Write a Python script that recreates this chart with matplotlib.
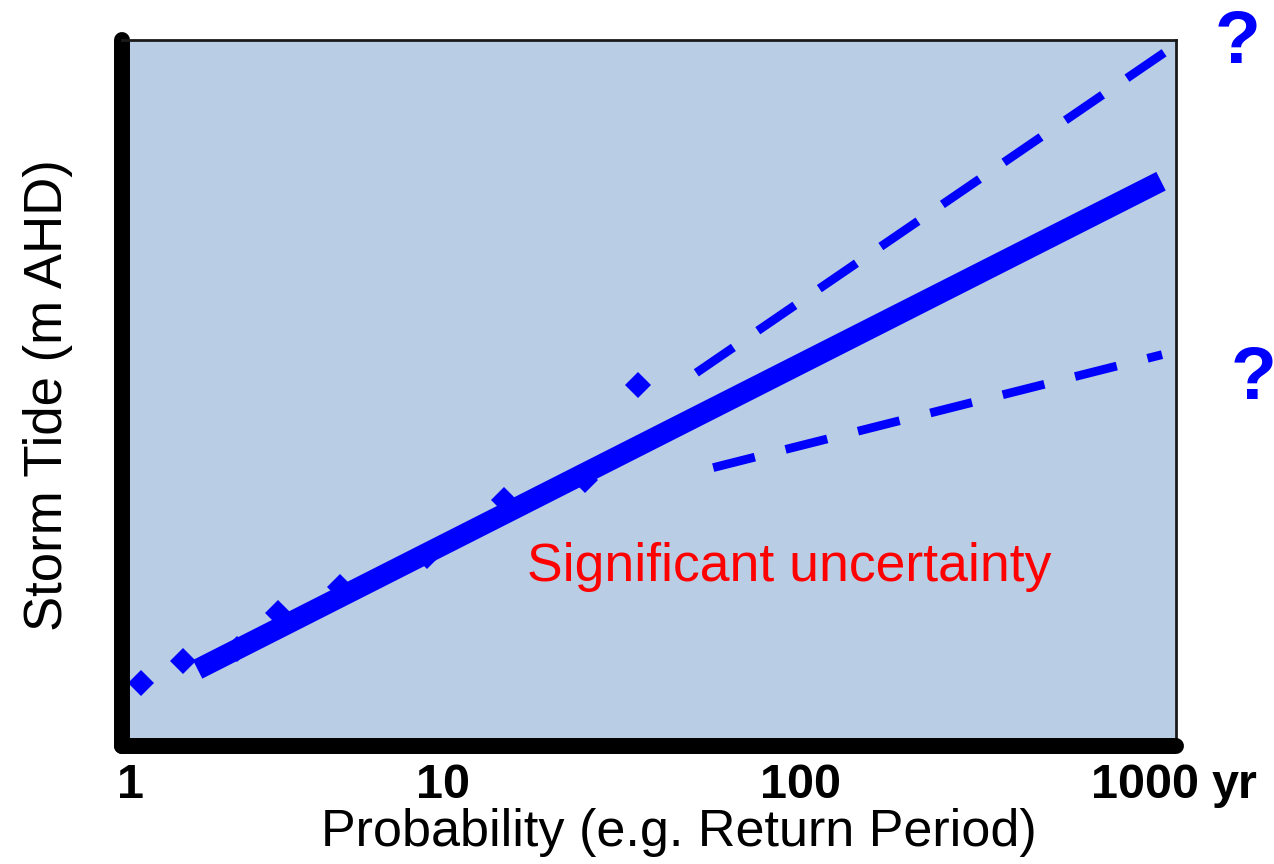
import matplotlib
matplotlib.use('Agg')
import matplotlib.pyplot as plt

plt.rcParams['font.family'] = 'Liberation Sans'

# observed storm tide maxima against return period (years)
return_period = [1.14, 1.51, 2.18, 2.88, 4.39, 7.9, 13.4, 23.2, 33.2]
storm_tide = [1.31, 1.42, 1.48, 1.66, 1.79, 1.94, 2.22, 2.32, 2.79]

# fitted curve and the upper / lower bounds of the extrapolation
fit_period = [1.67, 1156]
fit_tide = [1.38, 3.80]
upper_period = [49.3, 1188]
upper_tide = [2.85, 4.44]
lower_period = [55.3, 1164]
lower_tide = [2.38, 2.94]

tick_values = [1, 10, 100, 1000]
tick_labels = ['1', '10', '100', '1000']

blue = '#0000FF'

fig = plt.figure(figsize=(12.74, 8.64), dpi=100)
ax = fig.add_axes([0.0958, 0.1366, 0.8273, 0.8171])
ax.set_facecolor('#B9CDE5')
ax.set_xscale('log')
ax.set_xlim(1, 1280)
ax.set_ylim(1.0, 4.5)

ax.plot(return_period, storm_tide, 'D', color=blue, ms=13.5, mew=0, zorder=2)
ax.plot(fit_period, fit_tide, color=blue, lw=15, solid_capstyle='butt', zorder=3)
ax.plot(upper_period, upper_tide, color=blue, lw=6.3, ls=(0, (5.14, 3.38)),
        dash_capstyle='butt', zorder=3)
ax.plot(lower_period, lower_tide, color=blue, lw=6.3, ls=(0, (4.91, 3.62)),
        dash_capstyle='butt', zorder=3)

# heavy axes on the left and bottom, thin frame elsewhere
for side in ['left', 'bottom']:
    ax.spines[side].set_linewidth(11.5)
    ax.spines[side].set_color('black')
    ax.spines[side].set_capstyle('round')
for side in ['top', 'right']:
    ax.spines[side].set_linewidth(2)
    ax.spines[side].set_color('#1a1a1a')

# decade labels drawn by hand so each can be nudged a little
ax.set_xticks([])
ax.set_xticks([], minor=True)
ax.set_yticks([])
nudge = [6, -13, 0, 4]
for val, lab, dx in zip(tick_values, tick_labels, nudge):
    ax.annotate(lab, xy=(val, 0), xycoords=('data', 'axes fraction'),
                xytext=(dx, -12), textcoords='offset points', ha='center', va='top',
                fontsize=35, fontweight='bold', annotation_clip=False)
ax.annotate('yr', xy=(1000, 0), xycoords=('data', 'axes fraction'),
            xytext=(52, -12), textcoords='offset points', ha='left', va='top',
            fontsize=35, fontweight='bold', annotation_clip=False)

ax.set_xlabel('Probability (e.g. Return Period)', fontsize=37.5)
ax.xaxis.set_label_coords(0.5285, -0.088)
ax.set_ylabel('Storm Tide (m AHD)', fontsize=38)
ax.yaxis.set_label_coords(-0.0465, 0.497)

ax.text(0.6328, 0.2337, 'Significant uncertainty', transform=ax.transAxes,
        ha='center', va='baseline', color='#FF0000', fontsize=38.5)
ax.text(1.0588, 0.9674, '?', transform=ax.transAxes, ha='center', va='baseline',
        color=blue, fontsize=54, fontweight='bold', clip_on=False)
ax.text(1.0731, 0.4915, '?', transform=ax.transAxes, ha='center', va='baseline',
        color=blue, fontsize=54, fontweight='bold', clip_on=False)

fig.savefig('out.png', dpi=100)
